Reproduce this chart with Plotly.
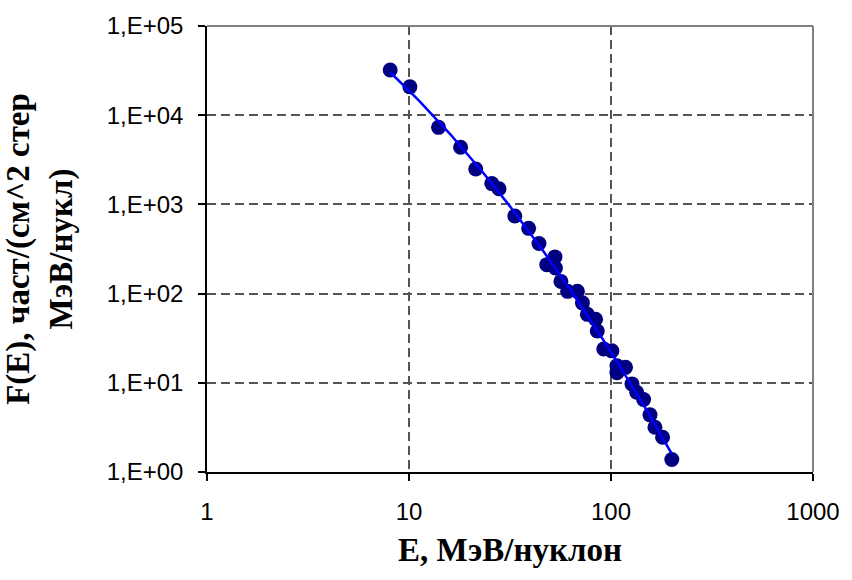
import numpy as np
import plotly.graph_objects as go

# Energy per nucleon (MeV/nucleon) and differential flux F(E)
energy = [8.07, 10.1, 14.0, 18.0, 21.4, 25.7, 27.9, 33.4, 39.1, 44.0,
          52.8, 48.1, 53.1, 56.5, 61.0, 68.2, 72.2, 76.4, 83.9, 85.5,
          92.1, 101, 107, 118, 107, 127, 134, 145, 156, 165, 180, 200]
flux = [32100, 20800, 7310, 4380, 2490, 1710, 1500, 741, 539, 364,
        258, 211, 194, 137, 106, 106, 78.8, 58.5, 51.5, 38.1,
        23.9, 22.8, 15.5, 14.9, 13.0, 9.72, 7.84, 6.50, 4.37, 3.17, 2.45, 1.38]

x_tickvals = [1, 10, 100, 1000]
x_ticktext = ["1", "10", "100", "1000"]
y_tickvals = [1, 10, 100, 1000, 10000, 100000]
y_ticktext = ["1,E+00", "1,E+01", "1,E+02", "1,E+03", "1,E+04", "1,E+05"]

# Quadratic trend in log-log space fitted to the measurements
lx = np.log10(energy)
ly = np.log10(flux)
coef = np.polyfit(lx, ly, 2)
fit_lx = np.linspace(lx.min(), lx.max(), 200)
fit_x = 10 ** fit_lx
fit_y = 10 ** np.polyval(coef, fit_lx)

fig = go.Figure()
fig.add_trace(go.Scatter(
    x=energy, y=flux, mode="markers",
    marker=dict(color="#000080", size=15, line=dict(color="#000080", width=0)),
    showlegend=False,
))
fig.add_trace(go.Scatter(
    x=fit_x, y=fit_y, mode="lines",
    line=dict(color="#0000FF", width=2.5),
    showlegend=False,
))

tick_font = dict(family="Liberation Sans, Arial, sans-serif", size=24, color="black")
title_font = dict(family="Liberation Serif, Times New Roman, serif", size=33, color="black")

fig.update_layout(
    width=852, height=580,
    margin=dict(l=207, r=32, t=23, b=108),
    paper_bgcolor="white", plot_bgcolor="white",
    xaxis=dict(
        type="log", range=[0, 3],
        tickvals=x_tickvals, ticktext=x_ticktext,
        tickfont=tick_font,
        ticks="outside", ticklen=7, tickcolor="black", tickwidth=1.5,
        showline=True, linecolor="black", linewidth=1.5,
        showgrid=True, gridcolor="#555555", gridwidth=1.5, griddash="9px,5px",
        zeroline=False,
        title=dict(text="<b>E, МэВ/нуклон</b>", font=title_font, standoff=14),
        ticklabelstandoff=10,
    ),
    yaxis=dict(
        type="log", range=[0, 5],
        tickvals=y_tickvals, ticktext=y_ticktext,
        tickfont=tick_font,
        ticks="outside", ticklen=7, tickcolor="black", tickwidth=1.5,
        showline=True, linecolor="black", linewidth=1.5,
        showgrid=True, gridcolor="#555555", gridwidth=1.5, griddash="9px,5px",
        zeroline=False,
        title=dict(text="<b>F(E), част/(см^2 стер<br>МэВ/нукл)</b>", font=title_font, standoff=24),
        ticklabelstandoff=10,
    ),
    shapes=[
        dict(type="line", xref="paper", yref="paper", x0=0, x1=1, y0=1, y1=1,
             line=dict(color="#808080", width=2), layer="above"),
        dict(type="line", xref="paper", yref="paper", x0=1, x1=1, y0=0, y1=1,
             line=dict(color="#808080", width=2), layer="above"),
    ],
)

fig.write_html("out.html")
